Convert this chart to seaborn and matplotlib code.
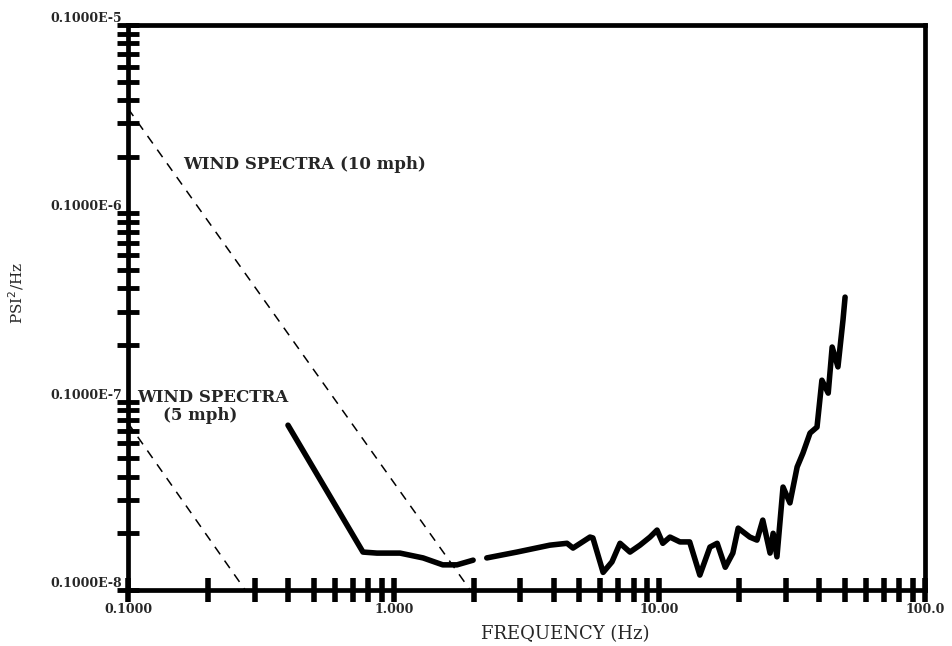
import numpy as np
import pandas as pd
import matplotlib
matplotlib.use('Agg')
import matplotlib.pyplot as plt
import matplotlib.ticker as mticker
import seaborn as sns

# ── data ──
# measured spectrum (segment 0 / segment 1 : the trace has a small break near 2 Hz)
freq = [0.40, 0.766, 0.865, 1.056, 1.29, 1.53, 1.73, 1.99,
        2.24, 2.91, 3.87, 4.49, 4.73, 5.48, 5.62, 6.14, 6.63, 7.11, 7.75, 8.45,
        9.22, 9.80, 10.3, 10.96, 11.95, 13.0, 14.2, 15.5, 16.5, 17.7, 18.9, 19.8,
        21.9, 23.3, 24.5, 26.1, 26.8, 27.7, 29.2, 31.0, 33.0, 34.7, 36.9, 39.2,
        40.9, 43.2, 44.7, 47.0, 49.1, 50.0]
psd = [7.5e-8, 1.59e-8, 1.57e-8, 1.57e-8, 1.48e-8, 1.36e-8, 1.36e-8, 1.44e-8,
       1.48e-8, 1.59e-8, 1.73e-8, 1.77e-8, 1.67e-8, 1.91e-8, 1.89e-8, 1.24e-8,
       1.41e-8, 1.77e-8, 1.59e-8, 1.73e-8, 1.91e-8, 2.08e-8, 1.77e-8, 1.91e-8,
       1.80e-8, 1.80e-8, 1.20e-8, 1.69e-8, 1.77e-8, 1.32e-8, 1.57e-8, 2.13e-8,
       1.91e-8, 1.84e-8, 2.35e-8, 1.57e-8, 2.0e-8, 1.50e-8, 3.52e-8, 2.90e-8,
       4.50e-8, 5.33e-8, 6.81e-8, 7.33e-8, 1.30e-7, 1.11e-7, 1.95e-7, 1.53e-7,
       2.71e-7, 3.59e-7]
segment = [0] * 8 + [1] * 42

# wind spectra reference lines (straight on log-log)
wind10_f = [0.1, 1.94]
wind10_p = [3.6e-6, 1.0e-8]
wind5_f = [0.1, 0.276]
wind5_p = [7.7e-8, 1.0e-8]

x_major = [0.1, 1.0, 10.0, 100.0]
x_labels = ['0.1000', '1.000', '10.00', '100.0']
y_major = [1e-8, 1e-7, 1e-6, 1e-5]
y_labels = ['0.1000E-8', '0.1000E-7', '0.1000E-6', '0.1000E-5']

df = pd.DataFrame({'freq': freq, 'psd': psd, 'seg': segment})

sns.set_style('white')
plt.rcParams['font.family'] = ['DejaVu Serif']

fig = plt.figure(figsize=(9.52, 6.46), dpi=100)
ax = fig.add_axes([0.1345, 0.0867, 0.8372, 0.8746])
ax.set_xscale('log')
ax.set_yscale('log')

sns.lineplot(data=df, x='freq', y='psd', units='seg', estimator=None, sort=False,
             color='black', linewidth=4.0, ax=ax)
sns.lineplot(x=wind10_f, y=wind10_p, color='black', linewidth=1.1,
             linestyle=(0, (6, 5)), ax=ax)
sns.lineplot(x=wind5_f, y=wind5_p, color='black', linewidth=1.1,
             linestyle=(0, (6, 5)), ax=ax)

ax.set_xlim(0.1, 100)
ax.set_ylim(1e-8, 1e-5)

# frame: thick scanned-looking border
for side in ['left', 'right', 'top', 'bottom']:
    ax.spines[side].set_linewidth(3.4)
    ax.spines[side].set_color('black')

ax.xaxis.set_major_locator(mticker.FixedLocator(x_major))
ax.xaxis.set_minor_locator(mticker.LogLocator(base=10, subs=np.arange(2, 10)))
ax.yaxis.set_major_locator(mticker.FixedLocator(y_major))
ax.yaxis.set_minor_locator(mticker.LogLocator(base=10, subs=np.arange(2, 10)))
ax.xaxis.set_minor_formatter(mticker.NullFormatter())
ax.yaxis.set_minor_formatter(mticker.NullFormatter())
ax.set_xticklabels(x_labels, fontsize=9, fontweight='bold')
ax.set_yticklabels(y_labels, fontsize=9, fontweight='bold', va='bottom')

ax.tick_params(axis='x', which='both', direction='inout', length=17, width=4,
               bottom=True, top=False, pad=1, color='black')
ax.tick_params(axis='y', which='both', direction='inout', length=16, width=3.5,
               left=True, right=False, pad=-4, color='black')

ax.set_xlabel('FREQUENCY (Hz)', fontsize=13)
ax.set_ylabel('PSI$^2$/Hz', fontsize=11)
ax.xaxis.set_label_coords(0.548, -0.062)
ax.yaxis.set_label_coords(-0.128, 0.526)

ax.text(0.161, 1.72e-6, 'WIND SPECTRA (10 mph)', fontsize=12, fontweight='bold')
ax.text(0.108, 1.0e-7, 'WIND SPECTRA', fontsize=12, fontweight='bold')
ax.text(0.1355, 7.98e-8, '(5 mph)', fontsize=12, fontweight='bold')

fig.savefig('out.png', dpi=100)
